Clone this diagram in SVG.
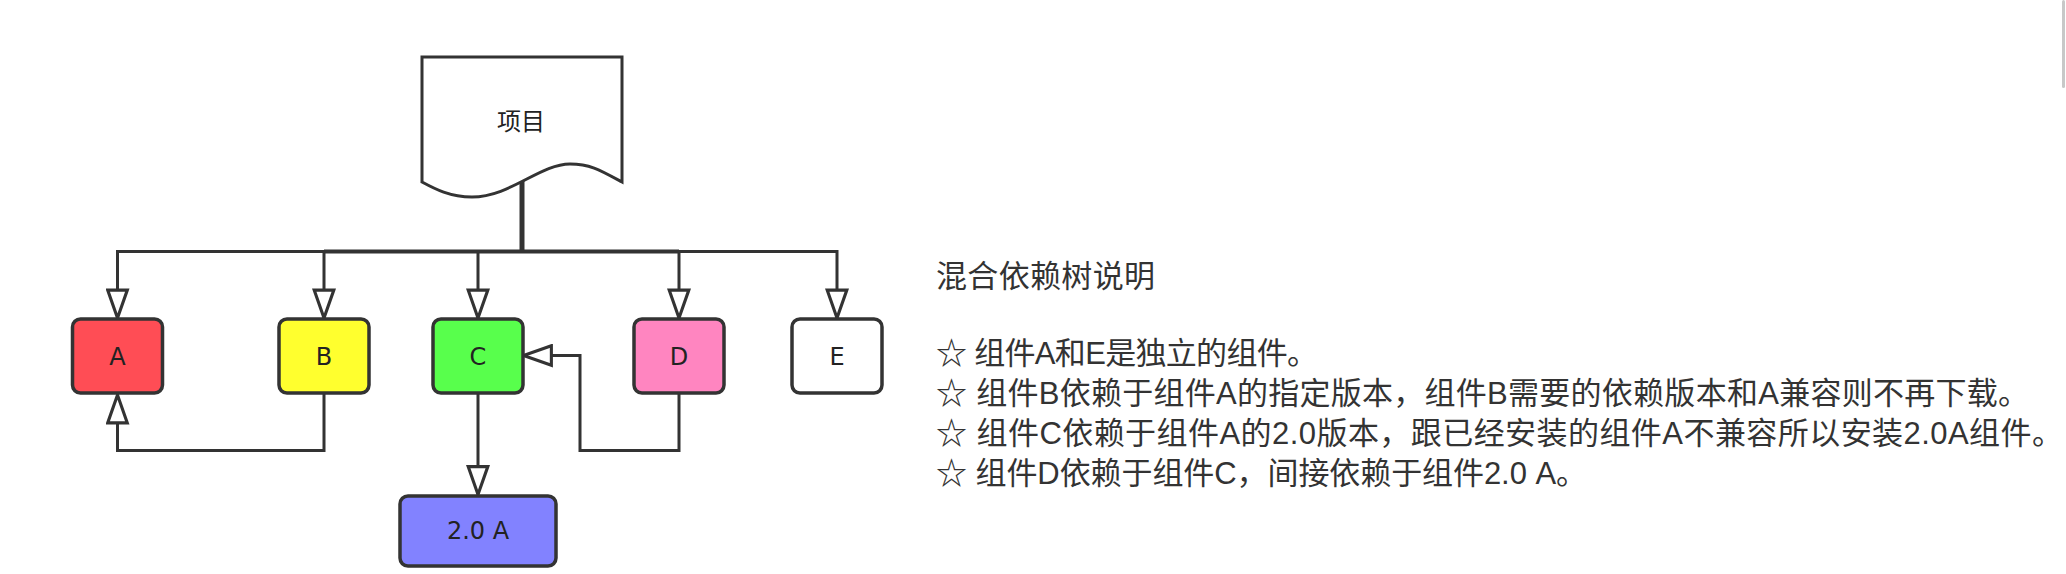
<svg xmlns="http://www.w3.org/2000/svg" width="2066" height="574" viewBox="0 0 2066 574">
<style>
.box{stroke:#333;stroke-width:3.5}
.lbl{font-family:"DejaVu Sans","Noto Sans",sans-serif;font-size:24px;fill:#222;text-anchor:middle}
.edge{fill:none;stroke:#333;stroke-width:3;marker-end:url(#tri)}
.txt{font-family:"Liberation Sans","Noto Sans CJK SC",sans-serif;font-size:31px;fill:#333}
</style>
<defs>
<marker id="tri" markerUnits="userSpaceOnUse" markerWidth="32" markerHeight="24" viewBox="-2 -2 31 23" refX="27" refY="9.5" orient="auto">
<path d="M0,0 L27,9.5 L0,19 Z" fill="#fff" stroke="#333" stroke-width="3" stroke-linejoin="miter"/>
</marker>
</defs>
<rect x="2062" y="0" width="3" height="88" rx="1.5" fill="#c8c8c8"/>
<g id="connectors">
<path class="edge" d="M522,183 V251.5 H117.5 V318"/>
<path class="edge" d="M522,183 V251.5 H324 V318"/>
<path class="edge" d="M522,183 V251.5 H478 V318"/>
<path class="edge" d="M522,183 V251.5 H679 V318"/>
<path class="edge" d="M522,183 V251.5 H837 V318"/>
<path class="edge" d="M324,394 V450.5 H117.5 V395"/>
<path class="edge" d="M679,394 V450.5 H580 V355.5 H523.5"/>
<path class="edge" d="M478,394 V494.5"/>
<path d="M522,180 V252" fill="none" stroke="#333" stroke-width="5"/>
<path d="M324,251.5 H679" fill="none" stroke="#333" stroke-width="4"/>
</g>
<g id="project">
<path d="M422,57 H622 V182 C600,170 590,164 570,164 C540,164 510,197 472,197 C450,197 435,189 422,182 Z" fill="#fff" stroke="#333" stroke-width="3"/>
<text x="521" y="130" style="font-family:'Noto Sans CJK SC',sans-serif;font-size:24px;fill:#222;text-anchor:middle">项目</text>
</g>
<g id="nodeA">
<rect class="box" x="72.5" y="319" width="90" height="74" rx="8" fill="#ff4d55"/>
<text class="lbl" x="117.5" y="365">A</text>
</g>
<g id="nodeB">
<rect class="box" x="279" y="319" width="90" height="74" rx="8" fill="#ffff2e"/>
<text class="lbl" x="324" y="365">B</text>
</g>
<g id="nodeC">
<rect class="box" x="433" y="319" width="90" height="74" rx="8" fill="#58ff4c"/>
<text class="lbl" x="478" y="365">C</text>
</g>
<g id="nodeD">
<rect class="box" x="634" y="319" width="90" height="74" rx="8" fill="#ff85c0"/>
<text class="lbl" x="679" y="365">D</text>
</g>
<g id="nodeE">
<rect class="box" x="792" y="319" width="90" height="74" rx="8" fill="#fff"/>
<text class="lbl" x="837" y="365">E</text>
</g>
<g id="node2A">
<rect class="box" x="400" y="496" width="156" height="70" rx="8" fill="#8282ff"/>
<text class="lbl" x="478" y="539">2.0 A</text>
</g>
<g id="legend">
<text class="txt" x="936" y="287" textLength="219" lengthAdjust="spacing">混合依赖树说明</text>
<text class="txt" x="936" y="364" textLength="382" lengthAdjust="spacing">☆ 组件A和E是独立的组件。</text>
<text class="txt" x="936" y="404" textLength="1093" lengthAdjust="spacing">☆ 组件B依赖于组件A的指定版本，组件B需要的依赖版本和A兼容则不再下载。</text>
<text class="txt" x="936" y="444" textLength="1127" lengthAdjust="spacing">☆ 组件C依赖于组件A的2.0版本，跟已经安装的组件A不兼容所以安装2.0A组件。</text>
<text class="txt" x="936" y="484" textLength="651" lengthAdjust="spacing">☆ 组件D依赖于组件C，间接依赖于组件2.0 A。</text>
</g>
</svg>
